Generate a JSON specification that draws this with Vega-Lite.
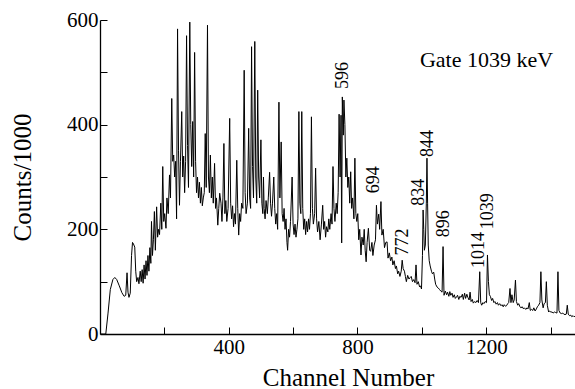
{
 "$schema": "https://vega.github.io/schema/vega-lite/v6.json",
 "width": 475, "height": 314,
 "autosize": {"type": "none"},
 "padding": {"left": 100, "top": 20, "right": 0, "bottom": 55},
 "background": "white",
 "config": {
  "view": {"stroke": null},
  "font": "Liberation Serif",
  "axis": {"domainColor": "black", "domainWidth": 1.3, "tickColor": "black", "tickWidth": 1, "tickSize": -7, "labelColor": "black", "titleColor": "black", "labelFont": "Liberation Serif", "titleFont": "Liberation Serif", "labelFontSize": 21, "titleFontSize": 25, "titleFontWeight": "normal", "grid": false, "labelPadding": 9, "labelFlush": false, "labelOverlap": false}
 },
 "datasets": {
  "spec": [
{"x":0,"y":0},{"x":10,"y":0},{"x":18,"y":0},{"x":25,"y":40},{"x":32,"y":85},{"x":40,"y":104},{"x":46,"y":108},{"x":52,"y":104},{"x":60,"y":92},{"x":68,"y":79},{"x":75,"y":72},{"x":80,"y":74},{"x":84,"y":117},{"x":87,"y":80},{"x":90,"y":70},{"x":94,"y":78},{"x":98,"y":150},{"x":101,"y":175},{"x":104,"y":172},{"x":108,"y":166},{"x":111,"y":120},{"x":114,"y":100},{"x":118,"y":108},{"x":121,"y":96},{"x":125,"y":120},{"x":128,"y":100},{"x":131,"y":123},{"x":134,"y":97},{"x":137,"y":132},{"x":140,"y":105},{"x":143,"y":140},{"x":146,"y":112},{"x":149,"y":150},{"x":152,"y":120},{"x":155,"y":165},{"x":158,"y":135},{"x":160,"y":215},{"x":163,"y":150},{"x":166,"y":180},{"x":169,"y":234},{"x":172,"y":160},{"x":176,"y":243},{"x":179,"y":185},{"x":182,"y":200},{"x":185,"y":190},{"x":189,"y":250},{"x":192,"y":200},{"x":195,"y":320},{"x":198,"y":215},{"x":201,"y":230},{"x":205,"y":202},{"x":208,"y":260},{"x":212,"y":230},{"x":216,"y":304},{"x":219,"y":260},{"x":223,"y":450},{"x":226,"y":330},{"x":229,"y":342},{"x":232,"y":300},{"x":235,"y":330},{"x":238,"y":220},{"x":241,"y":583},{"x":244,"y":350},{"x":247,"y":246},{"x":250,"y":330},{"x":254,"y":425},{"x":257,"y":300},{"x":260,"y":340},{"x":263,"y":270},{"x":266,"y":330},{"x":269,"y":570},{"x":272,"y":360},{"x":275,"y":280},{"x":279,"y":596},{"x":282,"y":400},{"x":285,"y":320},{"x":288,"y":406},{"x":291,"y":300},{"x":294,"y":538},{"x":297,"y":330},{"x":300,"y":270},{"x":303,"y":300},{"x":306,"y":260},{"x":309,"y":290},{"x":312,"y":250},{"x":315,"y":280},{"x":318,"y":245},{"x":321,"y":260},{"x":324,"y":270},{"x":327,"y":383},{"x":330,"y":280},{"x":334,"y":590},{"x":337,"y":300},{"x":340,"y":270},{"x":343,"y":342},{"x":346,"y":260},{"x":349,"y":300},{"x":352,"y":250},{"x":356,"y":326},{"x":359,"y":240},{"x":362,"y":260},{"x":366,"y":208},{"x":369,"y":240},{"x":372,"y":269},{"x":376,"y":250},{"x":379,"y":215},{"x":382,"y":260},{"x":385,"y":364},{"x":388,"y":230},{"x":391,"y":255},{"x":394,"y":215},{"x":398,"y":240},{"x":403,"y":412},{"x":406,"y":250},{"x":409,"y":220},{"x":412,"y":245},{"x":415,"y":205},{"x":418,"y":230},{"x":421,"y":210},{"x":425,"y":332},{"x":428,"y":240},{"x":431,"y":189},{"x":434,"y":230},{"x":437,"y":215},{"x":440,"y":250},{"x":444,"y":240},{"x":448,"y":504},{"x":451,"y":270},{"x":454,"y":230},{"x":458,"y":250},{"x":462,"y":393},{"x":465,"y":260},{"x":468,"y":240},{"x":471,"y":549},{"x":474,"y":320},{"x":477,"y":260},{"x":481,"y":559},{"x":484,"y":300},{"x":487,"y":250},{"x":490,"y":466},{"x":493,"y":300},{"x":496,"y":260},{"x":500,"y":371},{"x":503,"y":250},{"x":506,"y":230},{"x":508,"y":300},{"x":510,"y":240},{"x":513,"y":220},{"x":516,"y":255},{"x":520,"y":230},{"x":523,"y":260},{"x":527,"y":309},{"x":530,"y":250},{"x":533,"y":225},{"x":536,"y":250},{"x":540,"y":300},{"x":543,"y":240},{"x":546,"y":210},{"x":549,"y":230},{"x":552,"y":200},{"x":556,"y":443},{"x":559,"y":260},{"x":563,"y":367},{"x":566,"y":230},{"x":569,"y":215},{"x":572,"y":240},{"x":575,"y":200},{"x":578,"y":220},{"x":581,"y":175},{"x":583,"y":160},{"x":586,"y":200},{"x":589,"y":185},{"x":592,"y":215},{"x":597,"y":300},{"x":600,"y":210},{"x":603,"y":190},{"x":606,"y":210},{"x":609,"y":185},{"x":612,"y":200},{"x":615,"y":220},{"x":618,"y":425},{"x":621,"y":250},{"x":624,"y":230},{"x":627,"y":425},{"x":630,"y":240},{"x":633,"y":200},{"x":636,"y":220},{"x":639,"y":190},{"x":642,"y":215},{"x":645,"y":195},{"x":648,"y":220},{"x":651,"y":200},{"x":654,"y":230},{"x":657,"y":415},{"x":660,"y":240},{"x":663,"y":210},{"x":667,"y":230},{"x":670,"y":317},{"x":673,"y":220},{"x":676,"y":195},{"x":680,"y":215},{"x":684,"y":180},{"x":688,"y":210},{"x":692,"y":246},{"x":695,"y":200},{"x":698,"y":215},{"x":701,"y":185},{"x":704,"y":205},{"x":708,"y":195},{"x":711,"y":220},{"x":714,"y":200},{"x":718,"y":230},{"x":721,"y":210},{"x":724,"y":320},{"x":727,"y":240},{"x":730,"y":215},{"x":734,"y":250},{"x":737,"y":230},{"x":740,"y":270},{"x":743,"y":420},{"x":746,"y":300},{"x":749,"y":418},{"x":751,"y":174},{"x":753,"y":453},{"x":756,"y":380},{"x":758,"y":447},{"x":761,"y":400},{"x":764,"y":300},{"x":767,"y":336},{"x":770,"y":280},{"x":773,"y":300},{"x":776,"y":250},{"x":779,"y":310},{"x":782,"y":240},{"x":785,"y":260},{"x":789,"y":220},{"x":792,"y":336},{"x":795,"y":230},{"x":798,"y":215},{"x":801,"y":230},{"x":804,"y":180},{"x":807,"y":200},{"x":811,"y":151},{"x":814,"y":185},{"x":818,"y":170},{"x":821,"y":200},{"x":824,"y":160},{"x":827,"y":138},{"x":830,"y":175},{"x":834,"y":202},{"x":838,"y":160},{"x":841,"y":158},{"x":845,"y":175},{"x":848,"y":150},{"x":852,"y":170},{"x":856,"y":180},{"x":859,"y":246},{"x":862,"y":210},{"x":866,"y":229},{"x":869,"y":200},{"x":873,"y":253},{"x":876,"y":189},{"x":880,"y":200},{"x":884,"y":165},{"x":888,"y":175},{"x":892,"y":176},{"x":895,"y":145},{"x":899,"y":155},{"x":903,"y":140},{"x":907,"y":147},{"x":910,"y":132},{"x":914,"y":140},{"x":918,"y":125},{"x":921,"y":130},{"x":925,"y":115},{"x":928,"y":120},{"x":932,"y":110},{"x":936,"y":120},{"x":939,"y":141},{"x":942,"y":125},{"x":946,"y":120},{"x":949,"y":110},{"x":952,"y":100},{"x":956,"y":112},{"x":960,"y":105},{"x":964,"y":108},{"x":967,"y":110},{"x":971,"y":100},{"x":975,"y":104},{"x":979,"y":98},{"x":982,"y":132},{"x":985,"y":95},{"x":989,"y":100},{"x":993,"y":90},{"x":996,"y":92},{"x":999,"y":86},{"x":1002,"y":150},{"x":1004,"y":237},{"x":1006,"y":200},{"x":1008,"y":160},{"x":1011,"y":170},{"x":1014,"y":250},{"x":1016,"y":336},{"x":1018,"y":250},{"x":1020,"y":170},{"x":1023,"y":140},{"x":1026,"y":130},{"x":1030,"y":120},{"x":1033,"y":115},{"x":1037,"y":118},{"x":1040,"y":105},{"x":1043,"y":95},{"x":1047,"y":90},{"x":1051,"y":88},{"x":1055,"y":85},{"x":1059,"y":82},{"x":1063,"y":80},{"x":1066,"y":167},{"x":1069,"y":74},{"x":1073,"y":82},{"x":1077,"y":75},{"x":1080,"y":80},{"x":1084,"y":72},{"x":1087,"y":81},{"x":1090,"y":74},{"x":1094,"y":78},{"x":1097,"y":70},{"x":1101,"y":75},{"x":1104,"y":68},{"x":1108,"y":71},{"x":1111,"y":74},{"x":1115,"y":66},{"x":1118,"y":72},{"x":1122,"y":70},{"x":1126,"y":76},{"x":1129,"y":66},{"x":1133,"y":78},{"x":1136,"y":68},{"x":1140,"y":76},{"x":1143,"y":70},{"x":1147,"y":65},{"x":1150,"y":80},{"x":1153,"y":62},{"x":1157,"y":66},{"x":1160,"y":59},{"x":1164,"y":62},{"x":1168,"y":60},{"x":1172,"y":64},{"x":1176,"y":60},{"x":1180,"y":119},{"x":1183,"y":60},{"x":1186,"y":55},{"x":1190,"y":60},{"x":1193,"y":58},{"x":1197,"y":62},{"x":1201,"y":60},{"x":1204,"y":151},{"x":1207,"y":100},{"x":1210,"y":75},{"x":1213,"y":72},{"x":1217,"y":64},{"x":1220,"y":68},{"x":1224,"y":60},{"x":1227,"y":62},{"x":1231,"y":57},{"x":1235,"y":60},{"x":1238,"y":55},{"x":1242,"y":58},{"x":1246,"y":54},{"x":1249,"y":56},{"x":1253,"y":52},{"x":1256,"y":56},{"x":1260,"y":53},{"x":1263,"y":54},{"x":1267,"y":58},{"x":1270,"y":60},{"x":1274,"y":87},{"x":1277,"y":60},{"x":1280,"y":75},{"x":1284,"y":60},{"x":1287,"y":65},{"x":1291,"y":103},{"x":1294,"y":62},{"x":1298,"y":55},{"x":1301,"y":58},{"x":1305,"y":52},{"x":1308,"y":50},{"x":1312,"y":52},{"x":1316,"y":48},{"x":1319,"y":50},{"x":1323,"y":47},{"x":1327,"y":50},{"x":1330,"y":48},{"x":1334,"y":60},{"x":1337,"y":45},{"x":1341,"y":47},{"x":1345,"y":45},{"x":1348,"y":50},{"x":1352,"y":44},{"x":1356,"y":48},{"x":1359,"y":52},{"x":1363,"y":55},{"x":1367,"y":60},{"x":1370,"y":119},{"x":1373,"y":65},{"x":1377,"y":50},{"x":1380,"y":58},{"x":1384,"y":60},{"x":1387,"y":100},{"x":1390,"y":55},{"x":1394,"y":42},{"x":1397,"y":44},{"x":1401,"y":42},{"x":1405,"y":42},{"x":1408,"y":40},{"x":1412,"y":42},{"x":1416,"y":41},{"x":1420,"y":40},{"x":1423,"y":119},{"x":1426,"y":45},{"x":1430,"y":40},{"x":1434,"y":39},{"x":1438,"y":40},{"x":1441,"y":38},{"x":1445,"y":37},{"x":1449,"y":38},{"x":1452,"y":55},{"x":1455,"y":38},{"x":1459,"y":35},{"x":1463,"y":36},{"x":1466,"y":33},{"x":1470,"y":35},{"x":1473,"y":33},{"x":1476,"y":34}
  ],
  "labels": [
   {"x": 755, "y": 468, "label": "596", "kind": "peak"},
   {"x": 851, "y": 269, "label": "694", "kind": "peak"},
   {"x": 942, "y": 150, "label": "772", "kind": "peak"},
   {"x": 991, "y": 245, "label": "834", "kind": "peak"},
   {"x": 1019, "y": 338, "label": "844", "kind": "peak"},
   {"x": 1068, "y": 185, "label": "896", "kind": "peak"},
   {"x": 1179, "y": 126, "label": "1014", "kind": "peak"},
   {"x": 1206, "y": 200, "label": "1039", "kind": "peak"},
   {"x": 994, "y": 524, "label": "Gate 1039 keV", "kind": "gate"}
  ]
 },
 "layer": [
  {
   "data": {"name": "spec"},
   "mark": {"type": "line", "color": "black", "strokeWidth": 1, "clip": true},
   "encoding": {
    "x": {"field": "x", "type": "quantitative", "title": "Channel Number", "scale": {"domain": [0, 1476], "nice": false, "zero": false},
     "axis": {"orient": "bottom", "values": [200, 400, 600, 800, 1000, 1200, 1400], "labelExpr": "datum.value % 400 == 0 ? datum.label : ''", "format": "d", "titleX": 248, "titleY": 51, "titleBaseline": "alphabetic", "titleAlign": "center"}},
    "y": {"field": "y", "type": "quantitative", "title": "Counts/1000", "scale": {"domain": [0, 600], "nice": false},
     "axis": {"values": [0, 100, 200, 300, 400, 500, 600], "labelExpr": "datum.value % 200 == 0 ? datum.label : ''", "titleX": -70, "titleY": 157, "titleBaseline": "alphabetic", "titleAlign": "center", "titleAngle": 270}}
   }
  },
  {
   "data": {"name": "labels"},
   "mark": {"type": "text", "align": "left", "baseline": "middle", "font": "Liberation Serif", "color": "black"},
   "encoding": {
    "x": {"field": "x", "type": "quantitative", "title": "Channel Number", "scale": {"domain": [0, 1476], "nice": false, "zero": false}},
    "y": {"field": "y", "type": "quantitative", "title": "Counts/1000", "scale": {"domain": [0, 600], "nice": false}},
    "text": {"field": "label"},
    "angle": {"condition": {"test": "datum.kind == 'gate'", "value": 0}, "value": 270},
    "size": {"condition": {"test": "datum.kind == 'gate'", "value": 22}, "value": 18}
   }
  },
  {
   "mark": {"type": "rule", "color": "black", "strokeWidth": 1.3},
   "encoding": {
    "y": {"datum": 600, "type": "quantitative", "title": "Counts/1000", "scale": {"domain": [0, 600], "nice": false}}
   }
  }
 ]
}
